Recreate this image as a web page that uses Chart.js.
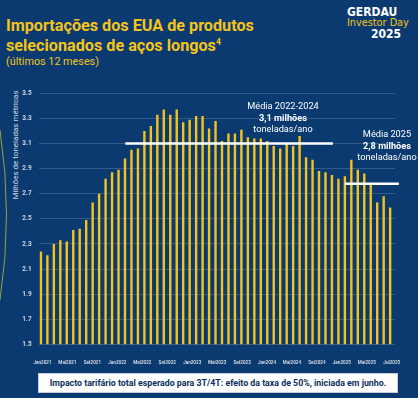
<!DOCTYPE html>
<html>
<head>
<meta charset="utf-8">
<script src="https://cdn.jsdelivr.net/npm/chart.js@4/dist/chart.umd.min.js"></script>
<style>
  html, body { margin: 0; padding: 0; }
  body { width: 418px; height: 398px; background: #0a3a70; overflow: hidden; position: relative; font-family: Roboto, "Noto Sans", sans-serif; }
  .abs { position: absolute; white-space: nowrap; }
  #title { left: 6px; top: 16px; color: #f5c41a; font-weight: 700; font-size: 16.2px; line-height: 19.5px; }
  #title sup { font-size: 8.5px; vertical-align: 6px; line-height: 0; }
  #sub { left: 6px; top: 56px; color: #f5c41a; font-size: 10.8px; line-height: 12px; }
  .logo { font-family: "Liberation Sans Narrow", "DejaVu Sans Condensed", sans-serif; line-height: 1; }
  #g1 { left: 347px; top: 6px; color: #fff; font-weight: 700; font-size: 12px; }
  #g2 { left: 347px; top: 18px; color: #f5c41a; font-size: 10.8px; }
  #g3 { left: 371px; top: 28px; color: #fff; font-weight: 700; font-size: 12px; }
  #ytitle { left: 15px; top: 145px; color: #d4dae4; font-size: 8px; transform: translate(-50%, -50%) rotate(-90deg); }
  .note { color: #fff; font-size: 9.2px; line-height: 11.5px; text-align: center; transform: translateX(-50%); }
  .note b { font-weight: 700; }
  #n1 { left: 283px; top: 100px; }
  #n2 { left: 387px; top: 128px; }
  #foot { left: 38px; top: 373px; width: 358px; height: 18px; background: #fff; border: 1px solid #c8ccd4; color: #0b2f5e; font-weight: 700; font-size: 8.8px; line-height: 18px; text-align: center; }
  #chartWrap { position: absolute; left: 0; top: 80px; width: 418px; height: 285px; }
</style>
</head>
<body>
<svg class="abs" style="left:0;top:0" width="20" height="398"><path d="M0,130 Q13,215 0,300" stroke="#9aa23a" stroke-width="1" fill="none"/></svg>
<div id="title" class="abs">Importações dos EUA de produtos<br>selecionados de aços longos<sup>4</sup></div>
<div id="sub" class="abs">(últimos 12 meses)</div>
<div id="g1" class="abs logo">GERDAU</div>
<div id="g2" class="abs logo">Investor Day</div>
<div id="g3" class="abs logo">2025</div>
<div id="ytitle" class="abs">Milhões de toneladas métricas</div>
<div id="chartWrap"><canvas id="chart" width="418" height="285"></canvas></div>
<div id="n1" class="abs note">Média 2022-2024<br><b>3,1 milhões</b><br>toneladas/ano</div>
<div id="n2" class="abs note">Média 2025<br><b>2,8 milhões</b><br>toneladas/ano</div>
<div id="foot" class="abs">Impacto tarifário total esperado para 3T/4T: efeito da taxa de 50%, iniciada em junho.</div>

<script>
// monthly categories Jan2021 .. Jul2025
const monthNames = ['Jan', 'Fev', 'Mar', 'Abr', 'Mai', 'Jun', 'Jul', 'Ago', 'Set', 'Out', 'Nov', 'Dez'];
const years = [2021, 2022, 2023, 2024, 2025];
const months = [];
years.forEach(y => {
  monthNames.forEach((m, i) => {
    if (y < 2025 || i < 7) months.push(m + y);
  });
});

// imports, million metric tons
const imports = [
  2.24, 2.21, 2.30, 2.33, 2.32, 2.41, 2.42, 2.49, 2.63, 2.70, 2.82, 2.87,
  2.89, 2.98, 3.05, 3.06, 3.20, 3.24, 3.33, 3.37, 3.33, 3.37, 3.27, 3.29,
  3.32, 3.32, 3.22, 3.28, 3.12, 3.18, 3.18, 3.21, 3.15, 3.14, 3.14, 3.12,
  3.08, 3.06, 3.10, 3.08, 3.16, 2.99, 2.97, 2.88, 2.87, 2.85, 2.82, 2.84,
  2.97, 2.89, 2.86, 2.77, 2.63, 2.68, 2.59
];

// average lines: value and span (in bar index units)
const avgValues = [3.1, 2.78];
const avgStart = [12.8, 46.8];
const avgEnd = [44.9, 55.1];

const xTickLabels = ['Jan2021', 'Mai2021', 'Set2021', 'Jan2022', 'Mai2022', 'Set2022', 'Jan2023',
  'Mai2023', 'Set2023', 'Jan2024', 'Mai2024', 'Set2024', 'Jan2025', 'Mai2025', 'Jul2025'];
const yTicks = [1.5, 1.7, 1.9, 2.1, 2.3, 2.5, 2.7, 2.9, 3.1, 3.3, 3.5];

const avgSets = avgValues.map((v, i) => ({
  type: 'line',
  xAxisID: 'x2',
  data: [{ x: avgStart[i], y: v }, { x: avgEnd[i], y: v }],
  borderColor: '#ffffff',
  borderWidth: 2.5,
  pointRadius: 0,
  clip: false,
  order: 0
}));

const ctx = document.getElementById('chart').getContext('2d');
new Chart(ctx, {
  type: 'bar',
  data: {
    labels: months,
    datasets: [{
      data: imports,
      backgroundColor: '#f6c31c',
      barPercentage: 0.74,
      categoryPercentage: 1,
      order: 1
    }].concat(avgSets)
  },
  options: {
    responsive: false,
    animation: false,
    devicePixelRatio: 1,
    layout: { padding: { top: 13.3, right: 23, left: 0, bottom: 0 } },
    plugins: { legend: { display: false }, tooltip: { enabled: false } },
    scales: {
      x: { display: false },
      x2: {
        type: 'linear',
        position: 'bottom',
        offset: false,
        min: -0.5,
        max: 54.5,
        grid: { display: false, offset: false },
        border: { display: false },
        afterFit: s => { s.height = 20.7; s.paddingLeft = 0; s.paddingRight = 0; },
        afterBuildTicks: s => {
          s.ticks = xTickLabels.map((l, i) => ({ value: i * 54 / (xTickLabels.length - 1) }));
        },
        ticks: {
          autoSkip: false,
          maxRotation: 0,
          padding: 8,
          color: '#d0d6e0',
          font: { family: 'Roboto', size: 4.6, weight: 'bold' },
          callback: (v, i) => xTickLabels[i]
        }
      },
      y: {
        min: 1.5,
        max: 3.5,
        afterFit: s => { s.width = 39.3; },
        afterBuildTicks: s => { s.ticks = yTicks.map(v => ({ value: v })); },
        grid: { color: 'rgba(255,255,255,0.17)', lineWidth: 1, drawTicks: false },
        border: { display: false },
        ticks: {
          padding: 7.6,
          color: '#d0d6e0',
          font: { family: 'Roboto', size: 6.5, weight: 'bold' },
          callback: v => v.toFixed(1)
        }
      }
    }
  }
});
</script>
</body>
</html>
